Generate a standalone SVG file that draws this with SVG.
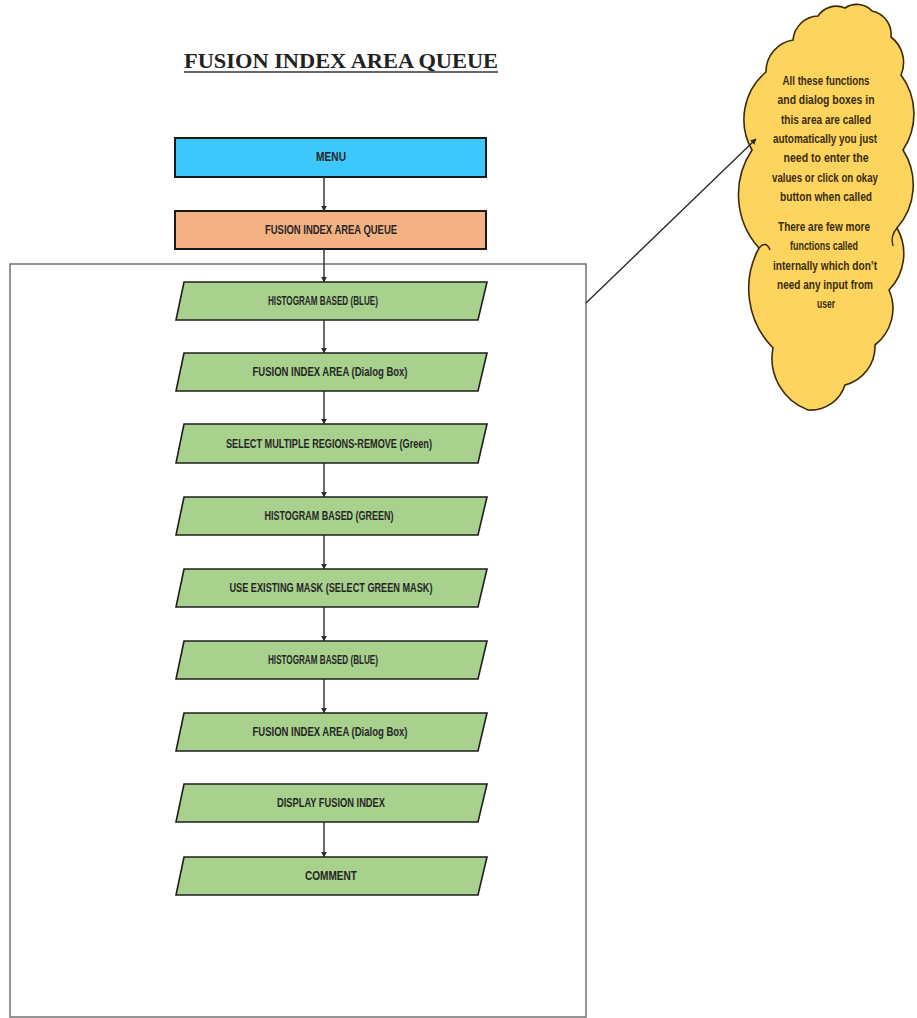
<svg xmlns="http://www.w3.org/2000/svg" width="917" height="1018" viewBox="0 0 917 1018">
  <style>
    .lbl { font-family: "Liberation Sans", Arial, sans-serif; font-size: 12px; font-weight: bold; fill: #262626; text-anchor: middle; }
    .note { font-family: "Liberation Sans", Arial, sans-serif; font-size: 12px; font-weight: bold; fill: #3a2c12; text-anchor: middle; }
    .title { font-family: "Liberation Serif", "Times New Roman", serif; font-size: 22px; font-weight: bold; fill: #222; }
    .step { fill: #a9d18e; stroke: #1e1e1e; stroke-width: 1.6; }
    .conn { stroke: #2b2b2b; stroke-width: 1.4; fill: none; marker-end: url(#arrow); }
    .crease { fill: none; stroke: #3b2a0a; stroke-width: 1.4; }
  </style>
  <defs>
    <marker id="arrow" viewBox="0 0 10 10" refX="9" refY="5" markerWidth="6" markerHeight="6" markerUnits="userSpaceOnUse" orient="auto">
      <path d="M0,0 L10,5 L0,10 z" fill="#2b2b2b"/>
    </marker>
  </defs>

  <rect width="917" height="1018" fill="#ffffff"/>

  <!-- heading -->
  <g id="title">
    <text class="title" x="184" y="68" textLength="314" lengthAdjust="spacingAndGlyphs">FUSION INDEX AREA QUEUE</text>
    <line x1="184" y1="72" x2="498" y2="72" stroke="#333" stroke-width="1.6"/>
  </g>

  <!-- automatic area frame -->
  <g id="area-frame">
    <rect x="10" y="264" width="576" height="753" fill="none" stroke="#7a7a7a" stroke-width="1.6"/>
  </g>

  <!-- flow steps -->
  <g id="menu">
    <rect x="175" y="138" width="311" height="39" fill="#3cc8fa" stroke="#1a1a1a" stroke-width="2"/>
    <text class="lbl" x="331" y="161" textLength="30" lengthAdjust="spacingAndGlyphs">MENU</text>
  </g>
  <g id="queue">
    <rect x="175" y="211" width="311" height="38" fill="#f4b183" stroke="#1a1a1a" stroke-width="2"/>
    <text class="lbl" x="331" y="234" textLength="132" lengthAdjust="spacingAndGlyphs">FUSION INDEX AREA QUEUE</text>
  </g>
  <g id="step1">
    <polygon class="step" points="184,282 487,282 478,320 176,320"/>
    <text class="lbl" x="323" y="305" textLength="110" lengthAdjust="spacingAndGlyphs">HISTOGRAM BASED (BLUE)</text>
  </g>
  <g id="step2">
    <polygon class="step" points="184,353 487,353 478,391 176,391"/>
    <text class="lbl" x="330" y="376" textLength="155" lengthAdjust="spacingAndGlyphs">FUSION INDEX AREA (Dialog Box)</text>
  </g>
  <g id="step3">
    <polygon class="step" points="184,424 487,424 478,463 176,463"/>
    <text class="lbl" x="329" y="448" textLength="206" lengthAdjust="spacingAndGlyphs">SELECT MULTIPLE REGIONS-REMOVE (Green)</text>
  </g>
  <g id="step4">
    <polygon class="step" points="184,497 487,497 478,535 176,535"/>
    <text class="lbl" x="329" y="520" textLength="129" lengthAdjust="spacingAndGlyphs">HISTOGRAM BASED (GREEN)</text>
  </g>
  <g id="step5">
    <polygon class="step" points="184,569 487,569 478,607 176,607"/>
    <text class="lbl" x="331" y="592" textLength="203" lengthAdjust="spacingAndGlyphs">USE EXISTING MASK (SELECT GREEN MASK)</text>
  </g>
  <g id="step6">
    <polygon class="step" points="184,641 487,641 478,679 176,679"/>
    <text class="lbl" x="323" y="664" textLength="110" lengthAdjust="spacingAndGlyphs">HISTOGRAM BASED (BLUE)</text>
  </g>
  <g id="step7">
    <polygon class="step" points="184,713 487,713 478,751 176,751"/>
    <text class="lbl" x="330" y="736" textLength="155" lengthAdjust="spacingAndGlyphs">FUSION INDEX AREA (Dialog Box)</text>
  </g>
  <g id="step8">
    <polygon class="step" points="184,784 487,784 478,822 176,822"/>
    <text class="lbl" x="331" y="807" textLength="108" lengthAdjust="spacingAndGlyphs">DISPLAY FUSION INDEX</text>
  </g>
  <g id="step9">
    <polygon class="step" points="184,857 487,857 478,895 176,895"/>
    <text class="lbl" x="331" y="880" textLength="52" lengthAdjust="spacingAndGlyphs">COMMENT</text>
  </g>

  <!-- callout cloud -->
  <g id="note-cloud">
    <path d="M766,72 A32 32 0 0 1 793,40 A26 26 0 0 1 818,16 A22 22 0 0 1 845,8 A21 21 0 0 1 872,11 A24 24 0 0 1 891,37 A32 32 0 0 1 901,75 A65 65 0 0 1 903,150 A65 65 0 0 1 897,228 A52 52 0 0 1 889,290 A46 46 0 0 1 875,345 A40 40 0 0 1 845,385 A36 36 0 0 1 808,410 A55 55 0 0 1 773,348 A85 85 0 0 1 759,248 A80 80 0 0 1 752,150 A62 62 0 0 1 766,72 Z"
          fill="#fcd45e" stroke="#3b2a0a" stroke-width="1.6"/>
    <!-- inner lobe creases -->
    <path class="crease" d="M759,248 Q766,240 770,250"/>
    <path class="crease" d="M897,228 Q890,236 893,246"/>
    <text class="note" x="826" y="85" textLength="87" lengthAdjust="spacingAndGlyphs">All these functions</text>
    <text class="note" x="826" y="104" textLength="97" lengthAdjust="spacingAndGlyphs">and dialog boxes in</text>
    <text class="note" x="826" y="124" textLength="90" lengthAdjust="spacingAndGlyphs">this area are called</text>
    <text class="note" x="825" y="143" textLength="104" lengthAdjust="spacingAndGlyphs">automatically you just</text>
    <text class="note" x="826" y="162" textLength="85" lengthAdjust="spacingAndGlyphs">need to enter the</text>
    <text class="note" x="825" y="182" textLength="106" lengthAdjust="spacingAndGlyphs">values or click on okay</text>
    <text class="note" x="826" y="201" textLength="92" lengthAdjust="spacingAndGlyphs">button when called</text>
    <text class="note" x="824" y="231" textLength="92" lengthAdjust="spacingAndGlyphs">There are few more</text>
    <text class="note" x="824" y="250" textLength="68" lengthAdjust="spacingAndGlyphs">functions called</text>
    <text class="note" x="825" y="270" textLength="104" lengthAdjust="spacingAndGlyphs">internally which don’t</text>
    <text class="note" x="825" y="289" textLength="96" lengthAdjust="spacingAndGlyphs">need any input from</text>
    <text class="note" x="826" y="308" textLength="18" lengthAdjust="spacingAndGlyphs">user</text>
  </g>

  <!-- connectors -->
  <g id="connectors">
    <line class="conn" x1="324" y1="177" x2="324" y2="211"/>
    <line class="conn" x1="324" y1="250" x2="324" y2="282"/>
    <line class="conn" x1="324" y1="320" x2="324" y2="353"/>
    <line class="conn" x1="324" y1="391" x2="324" y2="424"/>
    <line class="conn" x1="324" y1="463" x2="324" y2="497"/>
    <line class="conn" x1="324" y1="535" x2="324" y2="569"/>
    <line class="conn" x1="324" y1="607" x2="324" y2="641"/>
    <line class="conn" x1="324" y1="679" x2="324" y2="713"/>
    <line class="conn" x1="324" y1="822" x2="324" y2="857"/>
    <line class="conn" x1="586" y1="303" x2="756" y2="139"/>
  </g>
</svg>
